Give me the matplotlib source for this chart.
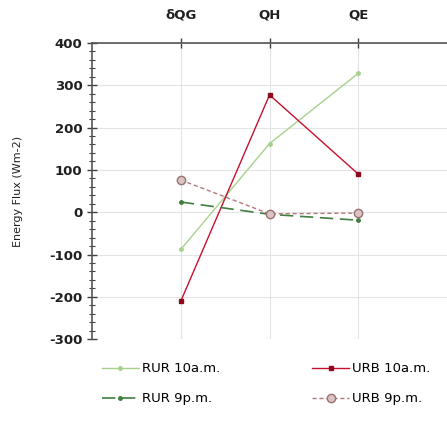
import numpy as np
import matplotlib
matplotlib.use('Agg')
from matplotlib import pyplot as plt
from matplotlib.ticker import MultipleLocator

categories = ['δQG', 'QH', 'QE']
rur_10am = [-88, 162, 328]
urb_10am = [-210, 277, 90]
rur_9pm = [24, -5, -19]
urb_9pm = [76, -4, -2]


def draw(export_path):
    plt.rcParams['font.family'] = ['DejaVu Sans']
    plt.rcParams['axes.unicode_minus'] = False
    fig = plt.figure(figsize=(4.47, 4.24), dpi=100)
    ax = fig.add_axes([0.206, 0.2, 0.794, 0.699])
    x = np.arange(len(categories))

    ax.plot(x, rur_10am, color='#a8d08d', lw=1.0, marker='o', ms=2.5,
            label='RUR 10a.m.')
    ax.plot(x, urb_10am, color='#c8102e', lw=1.0, marker='s', ms=3.5,
            mfc='#8b0a1e', mec='#8b0a1e', label='URB 10a.m.')
    ax.plot(x, rur_9pm, color='#3f7f3f', lw=1.2, ls=(0, (8, 4)), marker='o',
            ms=2.5, label='RUR 9p.m.')
    ax.plot(x, urb_9pm, color='#b07a7a', lw=1.0, ls=(0, (3, 2)), marker='o',
            ms=6, mfc='#d9c4c4', mec='#9a7070', label='URB 9p.m.')

    ax.set_xlim(-1, 3)
    ax.set_ylim(-300, 400)
    ax.set_xticks(x)
    ax.set_xticklabels(categories)
    ax.xaxis.tick_top()
    ax.yaxis.set_major_locator(MultipleLocator(100))
    ax.yaxis.set_minor_locator(MultipleLocator(20))
    ax.tick_params(axis='x', direction='inout', length=7, width=1,
                   pad=12, labelsize=9.5, colors='#404040')
    ax.tick_params(axis='y', which='major', direction='inout', length=7,
                   width=1, labelsize=9.5, colors='#404040')
    ax.tick_params(axis='y', which='minor', direction='inout', length=4,
                   width=0.8, colors='#404040')
    for lab in ax.get_xticklabels() + ax.get_yticklabels():
        lab.set_color('#202020')
        lab.set_fontweight('semibold')

    ax.grid(True, color='#e4e4e4', lw=0.8)
    ax.set_axisbelow(True)
    for s in ['right', 'bottom']:
        ax.spines[s].set_visible(False)
    ax.spines['top'].set_color('#555555')
    ax.spines['top'].set_linewidth(1.2)
    ax.spines['left'].set_color('#555555')
    ax.spines['left'].set_linewidth(1.2)

    ax.set_ylabel('Energy Flux (Wm-2)', fontsize=8, color='#202020',
                  labelpad=19)

    handles, labels = ax.get_legend_handles_labels()
    order = [0, 2, 1, 3]
    fig.legend([handles[i] for i in order], [labels[i] for i in order],
               loc='center', bbox_to_anchor=(0.595, 0.095), ncol=2,
               frameon=False, fontsize=9.5, columnspacing=7.0,
               handlelength=2.8, handletextpad=0.2, labelspacing=1.3)
    fig.savefig(export_path)


if __name__ == '__main__':
    draw('out.png')
